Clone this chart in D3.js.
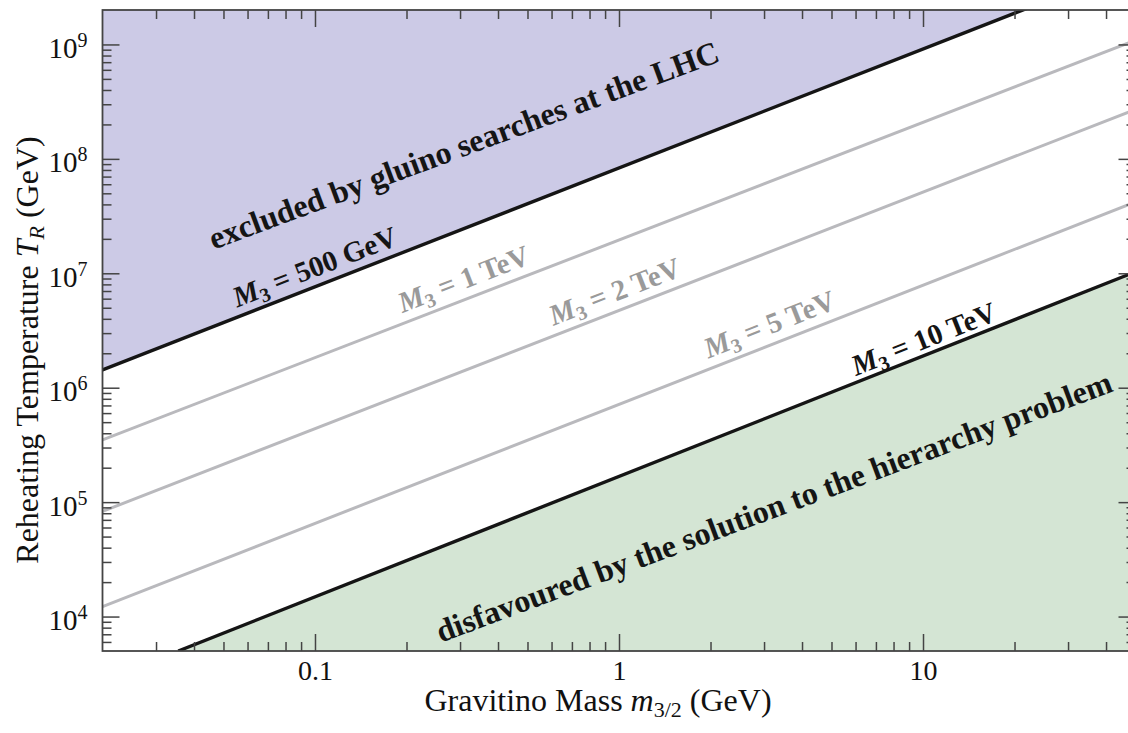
<!DOCTYPE html>
<html>
<head>
<meta charset="utf-8">
<script src="https://cdn.jsdelivr.net/npm/d3@7"></script>
<style>
  html, body { margin: 0; padding: 0; background: #ffffff; }
  svg { display: block; }
  text { font-family: "Liberation Serif", "Times New Roman", serif; }
</style>
</head>
<body>
<svg id="chart" width="1128" height="733"></svg>
<script>
// Axis ranges (GeV)
const massRange = [0.02, 50];          // gravitino mass m_3/2
const tempRange = [5e3, 2e9];          // reheating temperature T_R

// Gluino mass contours: T_R(m_3/2), straight lines in log-log space
const gluinoMass   = [500, 1000, 2000, 5000, 10000];
const gluinoLabels = ["500 GeV", "1 TeV", "2 TeV", "5 TeV", "10 TeV"];
const contourMass  = [[0.02, 50], [0.02, 50], [0.02, 50], [0.02, 50], [0.0355, 50]];
const contourTemp  = [[1.43e6, 4.85e9], [3.5e5, 1.09e9], [8.3e4, 2.7e8], [1.22e4, 4.2e7], [5.0e3, 1.03e7]];

// Tick marks
const xMajorTicks  = [0.1, 1, 10];
const xMajorLabels = ["0.1", "1", "10"];
const xMinorTicks  = [0.03, 0.04, 0.05, 0.06, 0.07, 0.08, 0.09,
                      0.2, 0.3, 0.4, 0.5, 0.6, 0.7, 0.8, 0.9,
                      2, 3, 4, 5, 6, 7, 8, 9, 20, 30, 40];
const yMajorTicks     = [1e4, 1e5, 1e6, 1e7, 1e8, 1e9];
const yMajorExponents = ["4", "5", "6", "7", "8", "9"];
const yMinorTicks = [];
[1e3, 1e4, 1e5, 1e6, 1e7, 1e8].forEach(p => [2,3,4,5,6,7,8,9].forEach(k => {
  const v = k * p; if (v > tempRange[0] && v < tempRange[1] && !yMajorTicks.includes(v)) yMinorTicks.push(v);
}));

// ---------------------------------------------------------------------
const svg = d3.select("#chart");
const box = { left: 102.5, right: 1135.5, top: 10, bottom: 651 };
const x = d3.scaleLog().domain(massRange).range([box.left, box.right]);
const y = d3.scaleLog().domain(tempRange).range([box.bottom, box.top]);

svg.append("defs").append("clipPath").attr("id", "plot-clip")
  .append("rect")
  .attr("x", box.left).attr("y", box.top)
  .attr("width", box.right - box.left).attr("height", box.bottom - box.top);

const plot = svg.append("g").attr("clip-path", "url(#plot-clip)");

const contours = gluinoMass.map((M, i) =>
  contourMass[i].map((m, j) => ({ m, T: contourTemp[i][j] })));

const line = d3.line().x(d => x(d.m)).y(d => y(d.T));

// excluded region above the lightest contour
const lightest = contours[0];
plot.append("path")
  .attr("d", line(lightest.concat([{ m: lightest[lightest.length - 1].m, T: 1e11 }, { m: lightest[0].m, T: 1e11 }])) + "Z")
  .attr("fill", "#cccae6");

// disfavoured region below the heaviest contour
const heaviest = contours[contours.length - 1];
plot.append("path")
  .attr("d", line(heaviest.concat([{ m: heaviest[heaviest.length - 1].m, T: 1e2 }, { m: heaviest[0].m, T: 1e2 }])) + "Z")
  .attr("fill", "#d4e5d4");

const isBoundary = i => i === 0 || i === contours.length - 1;

contours.forEach((c, i) => {
  plot.append("path")
    .attr("d", line(c))
    .attr("fill", "none")
    .attr("stroke", isBoundary(i) ? "#151515" : "#b9b9bd")
    .attr("stroke-width", isBoundary(i) ? 3.4 : 3);
});

// ---- axes: ticks on all four sides, pointing inwards --------------
function drawAxis(axisFn, scale, values, size, transform, fmt, pad) {
  const g = svg.append("g").attr("transform", transform)
    .call(axisFn(scale).tickValues(values).tickSize(-size).tickSizeOuter(0)
      .tickFormat(fmt || (() => "")).tickPadding(pad || 14));
  g.select(".domain").remove();
  g.selectAll(".tick line").attr("stroke", "#444").attr("stroke-width", 1.5);
  return g;
}
const majorLen = 17, minorLen = 9;
const bx = drawAxis(d3.axisBottom, x, xMajorTicks, majorLen, `translate(0,${box.bottom})`, (d, i) => xMajorLabels[i], 9);
drawAxis(d3.axisBottom, x, xMinorTicks, minorLen, `translate(0,${box.bottom})`);
drawAxis(d3.axisTop, x, xMajorTicks, majorLen, `translate(0,${box.top})`);
drawAxis(d3.axisTop, x, xMinorTicks, minorLen, `translate(0,${box.top})`);
bx.selectAll(".tick text")
  .attr("font-size", 28).attr("fill", "#111")
  .attr("font-family", "Liberation Serif, serif");

const ly = drawAxis(d3.axisLeft, y, yMajorTicks, majorLen, `translate(${box.left},0)`, () => "", 15);
drawAxis(d3.axisLeft, y, yMinorTicks, minorLen, `translate(${box.left},0)`);
drawAxis(d3.axisRight, y, yMajorTicks, majorLen, `translate(${box.right},0)`);
drawAxis(d3.axisRight, y, yMinorTicks, minorLen, `translate(${box.right},0)`);
ly.selectAll(".tick text").each(function (d, i) {
  const t = d3.select(this)
    .attr("font-size", 29).attr("fill", "#111").attr("dy", "0.45em")
    .attr("font-family", "Liberation Serif, serif");
  t.append("tspan").text("10");
  t.append("tspan").attr("font-size", 20).attr("dy", -11).text(yMajorExponents[i]);
});

// frame
svg.append("rect")
  .attr("x", box.left).attr("y", box.top)
  .attr("width", box.right - box.left).attr("height", box.bottom - box.top)
  .attr("fill", "none").attr("stroke", "#444").attr("stroke-width", 1.8);

// ---- axis titles ---------------------------------------------------
const xt = svg.append("text")
  .attr("x", 598).attr("y", 711).attr("text-anchor", "middle")
  .attr("font-size", 32).attr("fill", "#111");
xt.append("tspan").text("Gravitino Mass ");
xt.append("tspan").attr("font-style", "italic").text("m");
xt.append("tspan").attr("font-size", 22).attr("dy", 6).text("3/2");
xt.append("tspan").attr("dy", -6).text(" (GeV)");

const yt = svg.append("text")
  .attr("transform", "translate(38,350) rotate(-90)")
  .attr("text-anchor", "middle")
  .attr("font-size", 32).attr("fill", "#111");
yt.append("tspan").text("Reheating Temperature ");
yt.append("tspan").attr("font-style", "italic").text("T");
yt.append("tspan").attr("font-style", "italic").attr("font-size", 22).attr("dy", 6).text("R");
yt.append("tspan").attr("dy", -6).text(" (GeV)");

// ---- annotations along the contours -------------------------------
function lineAngle(c) {
  const a = c[0], b = c[c.length - 1];
  return Math.atan2(y(b.T) - y(a.T), x(b.m) - x(a.m));
}
function pointOn(c, m) {
  const a = c[0], b = c[c.length - 1];
  const t = (Math.log(m) - Math.log(a.m)) / (Math.log(b.m) - Math.log(a.m));
  const lt = Math.log(a.T) + t * (Math.log(b.T) - Math.log(a.T));
  return [x(m), y(Math.exp(lt))];
}
function placeText(c, m, offset, angleDeg) {
  const a = lineAngle(c);
  const [px, py] = pointOn(c, m);
  const ax = px + offset * Math.sin(a), ay = py - offset * Math.cos(a);
  const deg = angleDeg !== undefined ? angleDeg : a * 180 / Math.PI;
  return svg.append("text")
    .attr("transform", `translate(${ax},${ay}) rotate(${deg})`)
    .attr("text-anchor", "middle");
}

const contourLabelAt = [0.105, 0.325, 1.02, 3.3, 10.5];
const contourLabelOffset = [9, 10, 9.5, 10, 6];
contours.forEach((c, i) => {
  const t = placeText(c, contourLabelAt[i], contourLabelOffset[i])
    .attr("font-size", 29).attr("font-weight", "bold")
    .attr("fill", isBoundary(i) ? "#151515" : "#9a9a9a");
  t.append("tspan").attr("font-style", "italic").text("M");
  t.append("tspan").attr("font-size", 20).attr("dy", 5).text("3");
  t.append("tspan").attr("dy", -5).text(" = " + gluinoLabels[i]);
});

placeText(contours[0], 0.382, 67, -20.4)
  .attr("font-size", 32).attr("font-weight", "bold").attr("fill", "#151515")
  .text("excluded by gluino searches at the LHC");

placeText(contours[contours.length - 1], 2.545, -96, -20.5)
  .attr("font-size", 32).attr("font-weight", "bold").attr("fill", "#151515")
  .text("disfavoured by the solution to the hierarchy problem");
</script>
</body>
</html>
